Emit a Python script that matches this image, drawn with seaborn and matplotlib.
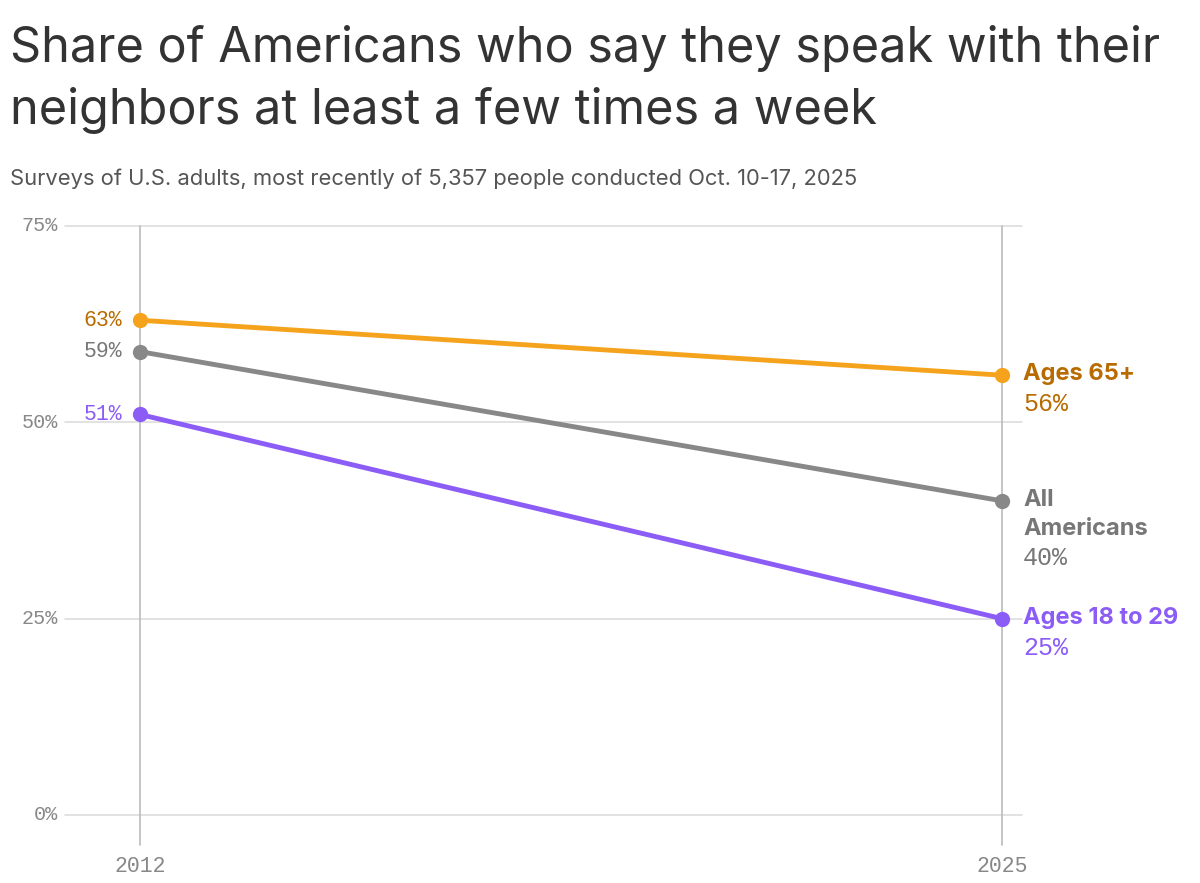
import matplotlib
matplotlib.use("Agg")
import matplotlib.pyplot as plt
import seaborn as sns
import pandas as pd

years = [2012, 2025]
series = ["Ages 65+", "All Americans", "Ages 18 to 29"]
values_65 = [63, 56]
values_all = [59, 40]
values_young = [51, 25]
line_colors = ["#f5a31d", "#888888", "#8b5cf6"]
text_colors = ["#b86b00", "#777777", "#8b5cf6"]
end_names = ["Ages 65+", "All\nAmericans", "Ages 18 to 29"]
y_ticks = [0, 25, 50, 75]

df = pd.DataFrame({
    "year": years * 3,
    "share": values_65 + values_all + values_young,
    "group": [s for s in series for _ in years],
})

sns.set_style("white")
plt.rcParams["font.family"] = ["Inter", "DejaVu Sans"]
mono = "Liberation Mono"

fig = plt.figure(figsize=(12, 8.83), dpi=100)
W, H = 1200, 883
PX = 66.3  # pixels per year
PY = (815 - 226) / 75  # pixels per percent
ax = fig.add_axes([65 / W, (H - 815) / H, (1022 - 65) / W, (815 - 226) / H])
ax.set_xlim(2012 - 75 / PX, 2025 + 20 / PX)
ax.set_ylim(0, 75)

for y in y_ticks:
    ax.axhline(y, color="#dddddd", lw=1.2, zorder=0, clip_on=False)
for x in years:
    ax.plot([x, x], [-3.8, 75], color="#bbbbbb", lw=1.2, clip_on=False, zorder=0)

sns.lineplot(data=df, x="year", y="share", hue="group", hue_order=series,
             palette=line_colors, lw=3.5, marker="o", markersize=11,
             markeredgewidth=0, legend=False, ax=ax, zorder=3)

for s in ax.spines.values():
    s.set_visible(False)
ax.set_xticks([])
ax.set_yticks([])
ax.set_xlabel("")
ax.set_ylabel("")

for y in y_ticks:
    ax.text(2012 - 82 / PX, y, f"{y}%", ha="right", va="center",
            family=mono, fontsize=14.5, color="#888888")
for x in years:
    ax.text(x, -5.2, str(x), ha="center", va="top", family=mono,
            fontsize=15.5, color="#888888")

vals = [values_65, values_all, values_young]
lx = 2025 + 21 / PX
for v, tc, name in zip(vals, text_colors, end_names):
    ax.text(2012 - 18 / PX, v[0], f"{v[0]}%", ha="right", va="center",
            family=mono, fontsize=15.5, color=tc)
    if "\n" in name:
        ax.text(lx, v[1] + 1 / PY, "All", ha="left", va="center",
                fontsize=17, fontweight="bold", color=tc)
        ax.text(lx, v[1] - 28 / PY, "Americans", ha="left", va="center",
                fontsize=17, fontweight="bold", color=tc)
        ax.text(lx, v[1] - 57 / PY, f"{v[1]}%", ha="left", va="center",
                family=mono, fontsize=18, color=tc)
    else:
        ax.text(lx, v[1] + 1 / PY, name, ha="left", va="center",
                fontsize=17, fontweight="bold", color=tc)
        ax.text(lx, v[1] - 29 / PY, f"{v[1]}%", ha="left", va="center",
                family=mono, fontsize=18, color=tc)

fig.text(10 / W, 1 - 48 / H, "Share of Americans who say they speak with their",
         ha="left", va="center", fontsize=35, color="#333333")
fig.text(10 / W, 1 - 110 / H, "neighbors at least a few times a week",
         ha="left", va="center", fontsize=35, color="#333333")
fig.text(10 / W, 1 - 179 / H, "Surveys of U.S. adults, most recently of 5,357 people conducted Oct. 10-17, 2025",
         ha="left", va="center", fontsize=15.8, color="#555555")

fig.savefig("out.png", dpi=100)
